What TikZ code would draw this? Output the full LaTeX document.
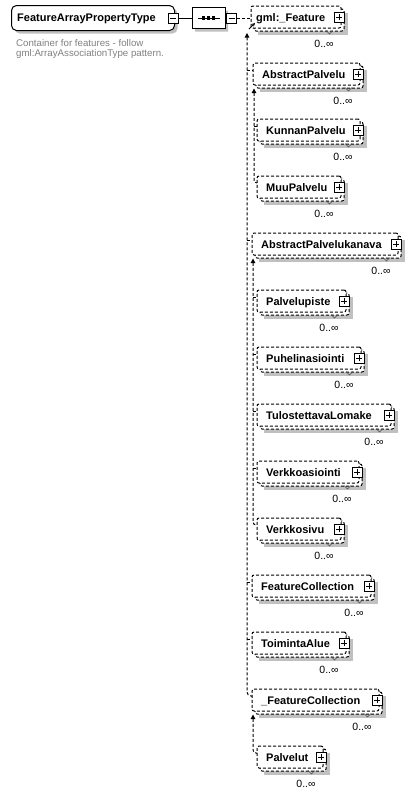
\documentclass[tikz,border=0pt]{standalone}
\usepackage{fontspec}
\setmainfont{Liberation Sans}
\usetikzlibrary{arrows.meta,shapes.misc,shadows,calc}
\definecolor{shadowgray}{RGB}{192,192,192}
\definecolor{desc}{RGB}{128,128,128}
\tikzset{
  lw/.style={line width=1pt},
  mainbox/.style={draw, lw, rounded corners=5pt, fill=white, minimum width=163pt, minimum height=25pt, inner sep=0pt, anchor=north west,
    drop shadow={shadow xshift=3pt, shadow yshift=-3pt, fill=shadowgray, opacity=1}},
  seqbox/.style={chamfered rectangle, chamfered rectangle xsep=5pt, chamfered rectangle ysep=5pt, draw, lw, fill=white,
    minimum width=33pt, minimum height=21pt, inner sep=0pt,
    drop shadow={shadow xshift=3pt, shadow yshift=-3pt, fill=shadowgray, opacity=1}},
  dashbox/.style={draw, lw, dash pattern=on 3pt off 2pt, rounded corners=2pt, fill=white},
  frontbox/.style={dashbox, minimum height=22pt, inner sep=0pt, outer sep=0pt, anchor=north west},
  btn/.style={draw, fill=white, line width=0.9pt, minimum size=10pt, inner sep=0pt},
  btnplus/.style={btn, path picture={\draw[line width=0.9pt]
      ([xshift=-3pt]path picture bounding box.center) -- ([xshift=3pt]path picture bounding box.center)
      ([yshift=-3pt]path picture bounding box.center) -- ([yshift=3pt]path picture bounding box.center);}},
  btnminus/.style={btn, path picture={\draw[line width=0.9pt]
      ([xshift=-3pt]path picture bounding box.center) -- ([xshift=3pt]path picture bounding box.center);}},
  ename/.style={font=\fontsize{11}{13}\selectfont\bfseries, anchor=base west, inner sep=0pt},
  occ/.style={font=\fontsize{10.5}{12}\selectfont, anchor=base, inner sep=0pt},
  dsc/.style={font=\fontsize{9.7}{10}\selectfont, text=desc, anchor=base west, inner sep=0pt},
  dashline/.style={lw, dash pattern=on 3pt off 2pt},
  uptip/.style={{Triangle[width=4.5pt,length=4.5pt]}-},
  seqdot/.style={fill, minimum size=3.2pt, inner sep=0pt},
}
% #1 name, #2 left, #3 top, #4 right of front box, #5 text, #6 text offset
\newcommand\xsdelem[6]{%
  \fill[shadowgray] (#2+7,#3+7) rectangle (#4+7,#3+29);
  \draw[dashbox] (#2+3,#3+3) rectangle (#4+3,#3+25);
  \node[frontbox, minimum width=#4-#2] (#1) at (#2,#3) {};
  \node[ename] (#1-t) at (#2+#6,#3+15.5) {#5};
  \node[btnplus] (#1-b) at (#4-2,#3+11) {};
  \node[occ] (#1-o) at (#4-17,#3+41) {0..∞};
  \draw[line width=0.6pt, gray!60!black] (#4-15,#3+24.5) -- (#4-11.5,#3+28) -- (#4-8,#3+24.5);
}
\begin{document}
\begin{tikzpicture}[x=1pt,y=-1pt]
\useasboundingbox (0,0) rectangle (414,796);

% main type box
\node[mainbox] (main) at (11,5) {};
\node[ename] (main-t) at (17,21.7) {FeatureArrayPropertyType};
\node[btnminus] (main-b) at (173,18) {};
\node[dsc] (d1) at (16,46) {Container for features - follow};
\node[dsc] (d2) at (16,56) {gml:ArrayAssociationType pattern.};

% sequence compositor
\node[seqbox] (seq) at (208.5,18) {};
\draw[lw] ($(seq.center)+(-11,0)$) -- ($(seq.center)+(11,0)$);
\node[seqdot] (dot1) at ($(seq.center)+(-5,0)$) {};
\node[seqdot] (dot2) at (seq.center) {};
\node[seqdot] (dot3) at ($(seq.center)+(5,0)$) {};
\node[btnminus] (seq-b) at (231.5,18) {};
\draw[lw] (main-b.east) -- (seq.west);

% elements
\xsdelem{feat}{251}{6}{341}{gml:\_Feature}{5}
\xsdelem{ap}{253}{63}{360}{AbstractPalvelu}{9}
\xsdelem{kp}{257}{119}{360}{KunnanPalvelu}{9}
\xsdelem{mp}{257}{176}{341}{MuuPalvelu}{9}
\xsdelem{apk}{252}{233}{398}{AbstractPalvelukanava}{9}
\xsdelem{pp}{257}{290}{346}{Palvelupiste}{9}
\xsdelem{pa}{257}{347}{361}{Puhelinasiointi}{9}
\xsdelem{tl}{257}{404}{391}{TulostettavaLomake}{9}
\xsdelem{va}{257}{461}{359}{Verkkoasiointi}{9}
\xsdelem{vs}{257}{518}{341}{Verkkosivu}{9}
\xsdelem{fc}{252}{575}{371}{FeatureCollection}{9}
\xsdelem{ta}{252}{632}{346}{ToimintaAlue}{9}
\xsdelem{ufc}{252}{689}{379}{\_FeatureCollection}{9}
\xsdelem{pv}{257}{746}{323}{Palvelut}{9}

% sequence -> gml:_Feature
\draw[dashline] (seq-b.east) -- (seq-b.east -| feat.west);
% reference arrow
\draw[line width=0.8pt, -{Stealth[length=3.5pt,width=3.5pt]}] ($(feat.south west)+(-2,1)$) -- ($(feat.south west)+(4,-5)$);

% substitution group of gml:_Feature
\coordinate (s0) at (247,33);
\foreach \m in {ap,apk,fc,ta,ufc} {\coordinate (\m-in) at ($(\m.north west)+(0,7)$);}
\draw[dashline, uptip, rounded corners=4pt] (s0) |- (ufc-in);
\foreach \m in {ap,apk,fc,ta} {\draw[dashline] (\m-in -| s0) -- (\m-in);}

% substitution group of AbstractPalvelu
\coordinate (s1) at ($(ap.south west)+(1,3.5)$);
\foreach \m in {kp,mp} {\coordinate (\m-in) at ($(\m.north west)+(0,7)$);}
\draw[dashline, uptip, rounded corners=3pt] (s1) |- (mp-in);
\draw[dashline] (kp-in -| s1) -- (kp-in);

% substitution group of AbstractPalvelukanava
\coordinate (s2) at ($(apk.south west)+(1,3.5)$);
\foreach \m in {pp,pa,tl,va,vs} {\coordinate (\m-in) at ($(\m.north west)+(0,7)$);}
\draw[dashline, uptip, rounded corners=3pt] (s2) |- (vs-in);
\foreach \m in {pp,pa,tl,va} {\draw[dashline] (\m-in -| s2) -- (\m-in);}

% substitution group of _FeatureCollection
\coordinate (s3) at ($(ufc.south west)+(1,3.5)$);
\coordinate (pv-in) at ($(pv.north west)+(0,7)$);
\draw[dashline, uptip, rounded corners=3pt] (s3) |- (pv-in);
\end{tikzpicture}
\end{document}
